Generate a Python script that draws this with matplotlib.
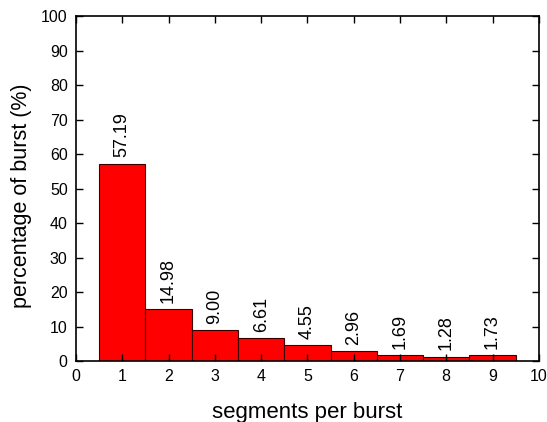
import numpy as np
import matplotlib.pyplot as plt

plt.rcParams['font.family'] = ['Liberation Sans', 'DejaVu Sans']

segments = [1, 2, 3, 4, 5, 6, 7, 8, 9]
percent = [57.19, 14.98, 9.00, 6.61, 4.55, 2.96, 1.69, 1.28, 1.73]

fig = plt.figure(figsize=(5.47, 4.22), dpi=100)
ax = fig.add_axes([0.139, 0.1445, 0.846, 0.8175])

bars = ax.bar(segments, percent, width=1.0, color='#ff0000', edgecolor='#3a0000', linewidth=0.8, zorder=1)
for x, v in zip(segments, percent):
    ax.annotate('%.2f' % v, (x, v), xytext=(0, 4.5), textcoords='offset points',
                rotation=90, ha='center', va='bottom', fontsize=13)

ax.set_xlim(0, 10)
ax.set_ylim(0, 100)
ax.set_xticks(range(0, 11))
ax.set_yticks(range(0, 101, 10))
ax.tick_params(direction='in', top=True, right=True, length=5, width=1, labelsize=11.5, pad=6, zorder=3)
for s in ax.spines.values():
    s.set_linewidth(1.2)
    s.set_zorder(3)
ax.set_axisbelow(False)
ax.set_xlabel('segments per burst', fontsize=16, labelpad=13)
ax.set_ylabel('percentage of burst (%)', fontsize=15.5)
ax.yaxis.set_label_coords(-0.095, 0.48)

fig.savefig('out.png', dpi=100)
